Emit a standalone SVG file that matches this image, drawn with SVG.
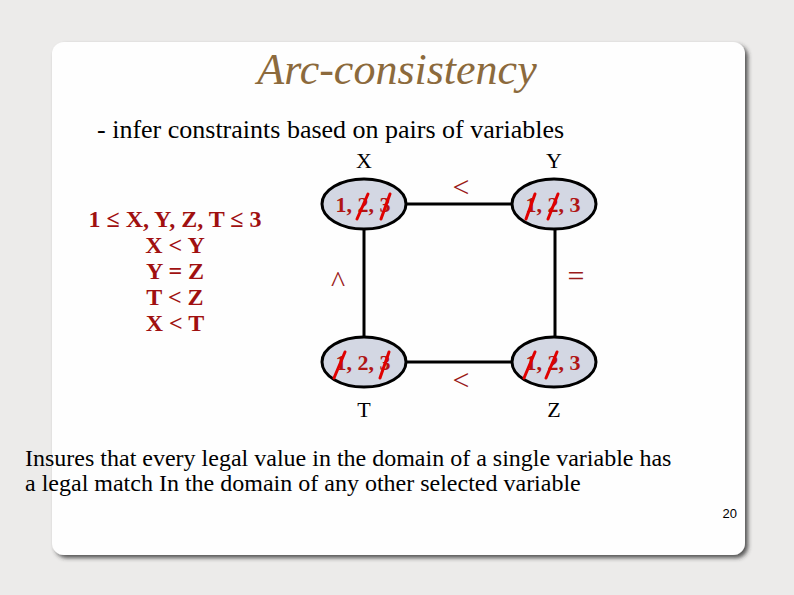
<svg xmlns="http://www.w3.org/2000/svg" width="794" height="595" viewBox="0 0 794 595">
<defs>
<filter id="sh" x="-5%" y="-5%" width="110%" height="110%"><feDropShadow dx="3" dy="3" stdDeviation="2" flood-color="#333" flood-opacity="0.8"/></filter>
<style>
.node{fill:#d3d7e3;stroke:#000;stroke-width:3}
.val{font-family:"Liberation Serif",serif;font-size:22px;font-weight:bold;fill:#b01515}
.lbl{font-family:"Liberation Serif",serif;font-size:22px;fill:#000}
.op{font-family:"Liberation Serif",serif;font-size:30px;fill:#9a1a1a}
.cons{font-family:"Liberation Serif",serif;font-size:24px;font-weight:bold;fill:#a01010}
.strike{stroke:#e00000;stroke-width:3;stroke-linecap:round}
.edge{stroke:#000;stroke-width:3}
</style>
</defs>
<rect width="794" height="595" fill="#ecebea"/>
<rect x="52" y="42" width="693" height="513" rx="12" fill="#fefefe" filter="url(#sh)"/>
<text x="397" y="84" text-anchor="middle" font-family="Liberation Serif,serif" font-size="44" font-style="italic" fill="#8c6a3c">Arc-consistency</text>
<text x="97" y="138" font-family="Liberation Serif,serif" font-size="26" fill="#000">- infer constraints based on pairs of variables</text>
<g id="constraints" class="cons" text-anchor="middle">
<text x="175" y="227">1 ≤ X, Y, Z, T ≤ 3</text>
<text x="175" y="253">X &lt; Y</text>
<text x="175" y="279">Y = Z</text>
<text x="175" y="305">T &lt; Z</text>
<text x="175" y="331">X &lt; T</text>
</g>
<g id="connectors">
<line class="edge" x1="404" y1="204" x2="512" y2="204"/>
<line class="edge" x1="404" y1="362" x2="512" y2="362"/>
<line class="edge" x1="364" y1="230" x2="364" y2="338"/>
<line class="edge" x1="555" y1="230" x2="555" y2="338"/>
<text class="op" x="461" y="197" text-anchor="middle">&lt;</text>
<text class="op" x="461" y="390" text-anchor="middle" font-size="28" fill="#9a2020">&lt;</text>
<text class="op" x="338" y="292" text-anchor="middle" font-size="24">^</text>
<text class="op" x="576" y="286" text-anchor="middle">=</text>
</g>
<g id="X">
<ellipse class="node" cx="364" cy="204" rx="42" ry="25"/>
<text class="val" x="363" y="212" text-anchor="middle">1, 2, 3</text>
<line class="strike" x1="357" y1="219" x2="368" y2="194"/>
<line class="strike" x1="381" y1="219" x2="390" y2="194"/>
<text class="lbl" x="364" y="168" text-anchor="middle">X</text>
</g>
<g id="Y">
<ellipse class="node" cx="554" cy="204" rx="42" ry="25"/>
<text class="val" x="553" y="212" text-anchor="middle">1, 2, 3</text>
<line class="strike" x1="526" y1="219" x2="535" y2="194"/>
<line class="strike" x1="548" y1="219" x2="558" y2="194"/>
<text class="lbl" x="554" y="168" text-anchor="middle">Y</text>
</g>
<g id="T">
<ellipse class="node" cx="364" cy="362" rx="42" ry="25"/>
<text class="val" x="363" y="370" text-anchor="middle">1, 2, 3</text>
<line class="strike" x1="334" y1="378" x2="345" y2="352"/>
<line class="strike" x1="380" y1="378" x2="389" y2="352"/>
<text class="lbl" x="364" y="417" text-anchor="middle">T</text>
</g>
<g id="Z">
<ellipse class="node" cx="554" cy="362" rx="42" ry="25"/>
<text class="val" x="553" y="370" text-anchor="middle">1, 2, 3</text>
<line class="strike" x1="524" y1="378" x2="535" y2="352"/>
<line class="strike" x1="546" y1="378" x2="557" y2="352"/>
<text class="lbl" x="554" y="417" text-anchor="middle">Z</text>
</g>
<text x="25" y="466" font-family="Liberation Serif,serif" font-size="24" fill="#000">Insures that every legal value in the domain of a single variable has</text>
<text x="25" y="491" font-family="Liberation Serif,serif" font-size="24" fill="#000">a legal match In the domain of any other selected variable</text>
<text x="737" y="518" text-anchor="end" font-family="Liberation Sans,sans-serif" font-size="13" fill="#000">20</text>
</svg>
